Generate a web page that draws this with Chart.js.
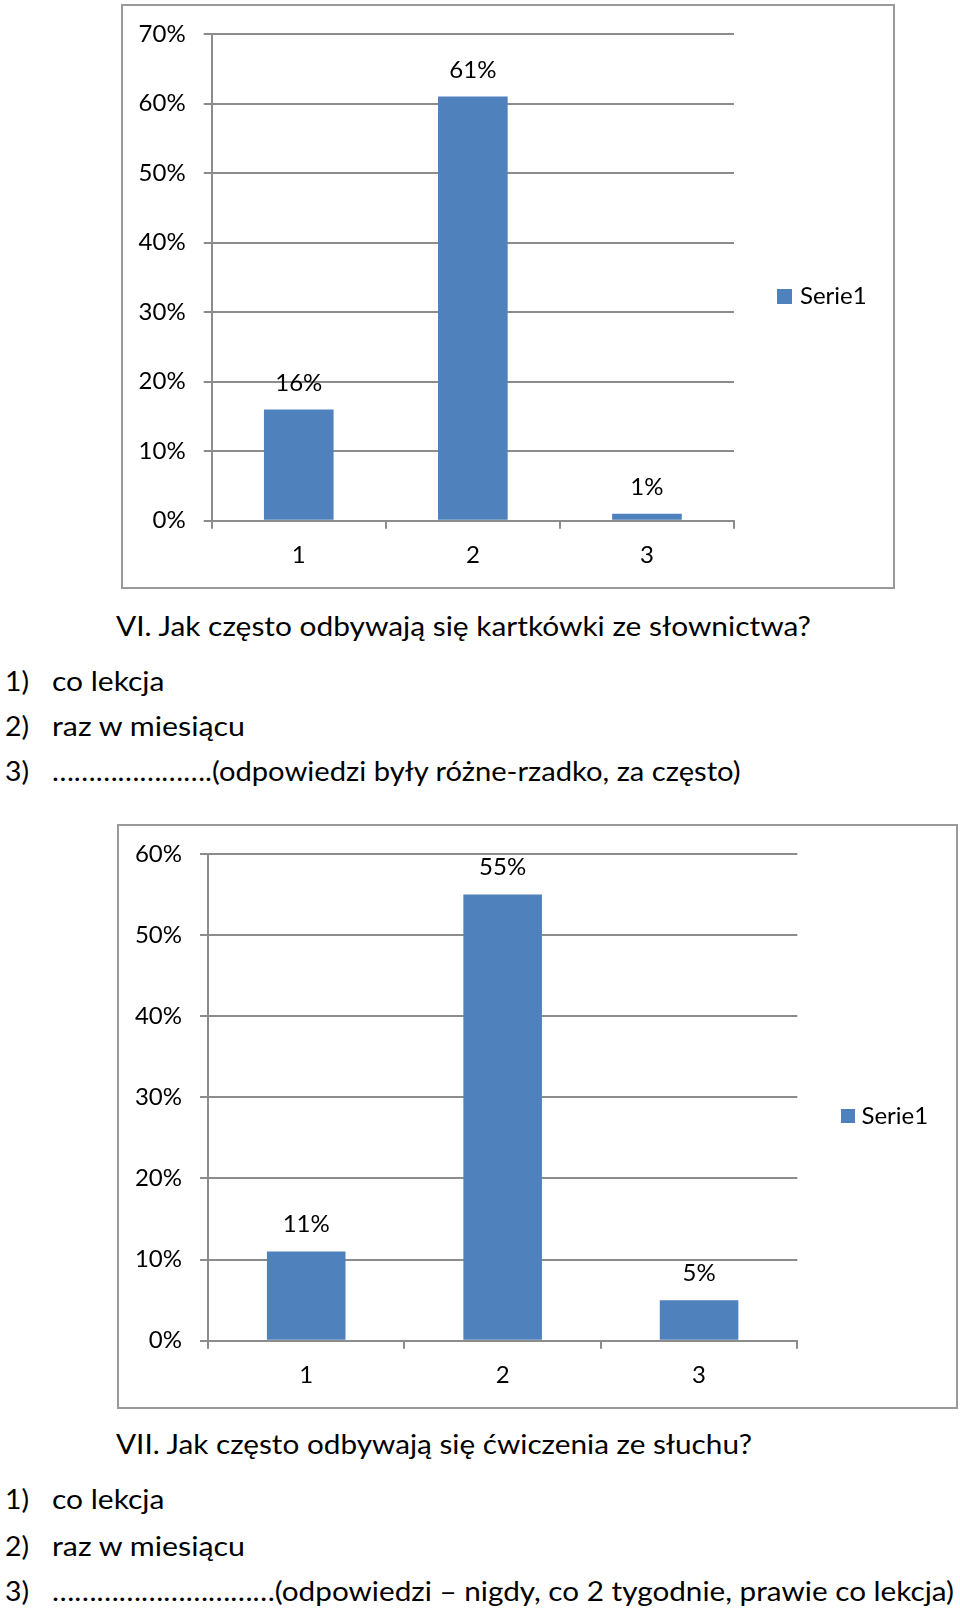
<!DOCTYPE html>
<html>
<head>
<meta charset="utf-8">
<script src="https://cdn.jsdelivr.net/npm/chart.js@4/dist/chart.umd.min.js"></script>
<style>
html,body{margin:0;padding:0;background:#fff;}
body{width:960px;height:1609px;position:relative;overflow:hidden;font-family:Lato,"Open Sans",sans-serif;}
.box{position:absolute;border:2px solid #9a9a9a;box-sizing:border-box;background:#fff;}
.box canvas{position:absolute;left:0;top:0;}
.t{position:absolute;white-space:nowrap;font-size:27px;line-height:30px;color:#000;transform-origin:0 0;}
.s{display:inline-block;width:0;height:0;}
</style>
</head>
<body>

<div class="box" style="left:121px;top:4px;width:774px;height:585px;">
  <canvas id="c1" width="770" height="581" style="width:770px;height:581px;"></canvas>
</div>

<div class="t" data-l="116" data-r="811" data-b="636">VI. Jak często odbywają się kartkówki ze słownictwa?<span class="s"></span></div>
<div class="t" data-l="5" data-r="29" data-b="691">1)<span class="s"></span></div>
<div class="t" data-l="52" data-r="164.5" data-b="691">co lekcja<span class="s"></span></div>
<div class="t" data-l="5" data-r="29" data-b="736">2)<span class="s"></span></div>
<div class="t" data-l="52" data-r="245" data-b="736">raz w miesiącu<span class="s"></span></div>
<div class="t" data-l="5" data-r="29" data-b="781">3)<span class="s"></span></div>
<div class="t" data-l="52" data-r="740.5" data-b="781">………………….(odpowiedzi były różne-rzadko, za często)<span class="s"></span></div>

<div class="box" style="left:117px;top:824px;width:841px;height:585px;">
  <canvas id="c2" width="837" height="581" style="width:837px;height:581px;"></canvas>
</div>

<div class="t" data-l="116" data-r="752" data-b="1454">VII. Jak często odbywają się ćwiczenia ze słuchu?<span class="s"></span></div>
<div class="t" data-l="5" data-r="29" data-b="1509">1)<span class="s"></span></div>
<div class="t" data-l="52" data-r="164.5" data-b="1509">co lekcja<span class="s"></span></div>
<div class="t" data-l="5" data-r="29" data-b="1556">2)<span class="s"></span></div>
<div class="t" data-l="52" data-r="245" data-b="1556">raz w miesiącu<span class="s"></span></div>
<div class="t" data-l="5" data-r="29" data-b="1601">3)<span class="s"></span></div>
<div class="t" data-l="52" data-r="954" data-b="1601">…………………………(odpowiedzi – nigdy, co 2 tygodnie, prawie co lekcja)<span class="s"></span></div>

<script>
// ---- data ----
const categories = ['1', '2', '3'];
const seriesName = 'Serie1';
const values1 = [16, 61, 1];
const values2 = [11, 55, 5];
const yTicks1 = ['0%', '10%', '20%', '30%', '40%', '50%', '60%', '70%'];
const yTicks2 = ['0%', '10%', '20%', '30%', '40%', '50%', '60%'];

// ---- text placement ----
function placeTexts(){
  document.querySelectorAll('.t').forEach(el => {
    const L = +el.dataset.l, R = +el.dataset.r, B = +el.dataset.b;
    el.style.transform = 'none';
    el.style.left = L + 'px';
    el.style.top = '0px';
    const s = el.querySelector('.s');
    const base = s.getBoundingClientRect().top - el.getBoundingClientRect().top;
    el.style.top = (B - base) + 'px';
    const w = el.getBoundingClientRect().width;
    if (R && w > 0) el.style.transform = 'scaleX(' + ((R - L) / w) + ')';
  });
}
placeTexts();
if (document.fonts && document.fonts.ready) document.fonts.ready.then(placeTexts);

// ---- chart helpers ----
const BAR = '#4F81BD';
const LINE = '#8c8c8c';
const FONT = {family: 'Lato, "Open Sans", sans-serif', size: 24};

const valueLabels = {
  id: 'valueLabels',
  afterDatasetsDraw(chart, args, opts) {
    const ctx = chart.ctx;
    const ds = chart.data.datasets[0];
    const meta = chart.getDatasetMeta(0);
    ctx.save();
    ctx.font = FONT.size + 'px ' + FONT.family;
    ctx.fillStyle = '#000';
    ctx.textAlign = 'center';
    ctx.textBaseline = 'middle';
    meta.data.forEach((bar, i) => {
      ctx.fillText(ds.data[i] + '%', bar.x, bar.y - opts.offset);
    });
    ctx.restore();
  }
};

const sideLegend = {
  id: 'sideLegend',
  afterDraw(chart, args, opts) {
    const ctx = chart.ctx;
    const ds = chart.data.datasets[0];
    ctx.save();
    ctx.fillStyle = ds.backgroundColor;
    ctx.fillRect(opts.x, opts.y, opts.size, opts.size);
    ctx.font = FONT.size + 'px ' + FONT.family;
    ctx.fillStyle = '#000';
    ctx.textAlign = 'left';
    ctx.textBaseline = 'middle';
    ctx.fillText(ds.label, opts.textX, opts.y + opts.size / 2);
    ctx.restore();
  }
};

function makeChart(id, values, yTicks, g) {
  const canvas = document.getElementById(id);
  const W = canvas.width, H = canvas.height;
  return new Chart(canvas, {
    type: 'bar',
    data: {
      labels: categories,
      datasets: [{
        label: seriesName,
        data: values,
        backgroundColor: BAR,
        borderWidth: 0,
        barPercentage: 0.4,
        categoryPercentage: 1.0
      }]
    },
    options: {
      responsive: false,
      animation: false,
      devicePixelRatio: 1,
      layout: {padding: {left: 0, top: g.top, right: W - g.right, bottom: 0}},
      plugins: {
        legend: {display: false},
        tooltip: {enabled: false},
        valueLabels: {offset: g.labelOffset},
        sideLegend: g.legend
      },
      scales: {
        x: {
          offset: true,
          grid: {display: true, drawOnChartArea: false, drawTicks: true, tickLength: 8, color: LINE, lineWidth: 2, offset: true},
          border: {display: true, color: LINE, width: 2},
          ticks: {color: '#000', font: FONT, padding: 12},
          afterFit(scale) { scale.height = H - g.bottom; scale.paddingLeft = 0; scale.paddingRight = 0; }
        },
        y: {
          min: 0,
          max: (yTicks.length - 1) * 10,
          grid: {color: LINE, lineWidth: 2, drawTicks: true, tickLength: 8},
          border: {display: true, color: LINE, width: 2},
          ticks: {
            stepSize: 10,
            color: '#000',
            font: FONT,
            padding: 18,
            callback: (v) => yTicks[Math.round(v / 10)]
          },
          afterFit(scale) { scale.width = g.left; scale.paddingTop = 0; scale.paddingBottom = 0; }
        }
      }
    },
    plugins: [valueLabels, sideLegend]
  });
}

makeChart('c1', values1, yTicks1, {
  left: 88.7, right: 611, top: 28, bottom: 514.7, labelOffset: 26,
  legend: {x: 654, y: 283, size: 15, textX: 677}
});
makeChart('c2', values2, yTicks2, {
  left: 89, right: 678.3, top: 28, bottom: 514.7, labelOffset: 27,
  legend: {x: 722, y: 283, size: 14, textX: 742.5}
});
</script>
</body>
</html>
